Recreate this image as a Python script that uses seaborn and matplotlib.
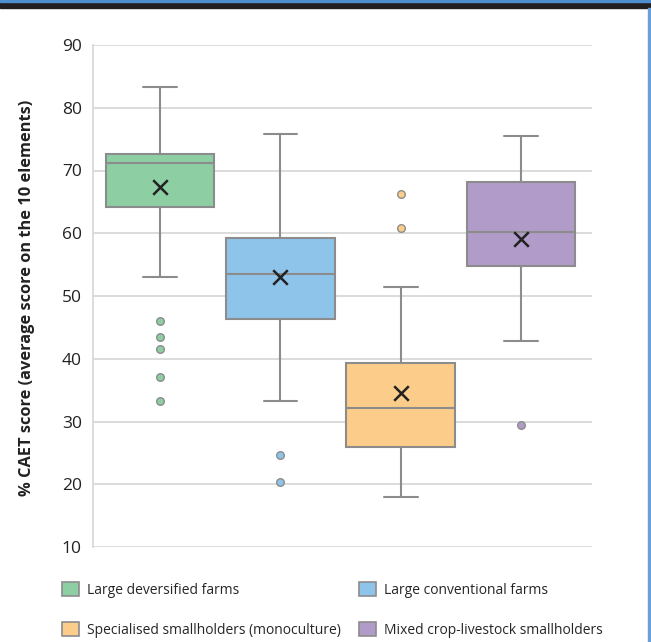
import numpy as np
import pandas as pd
import seaborn as sns
import matplotlib.pyplot as plt
from matplotlib.patches import Patch, Rectangle

groups = ["Large deversified farms", "Large conventional farms",
          "Specialised smallholders (monoculture)", "Mixed crop-livestock smallholders"]
colors = ["#8dcea3", "#8ec4ea", "#fccd8a", "#b19bc9"]

whislo = [53.0, 33.3, 18.0, 42.8]
q1 = [64.2, 46.3, 25.9, 54.8]
med = [71.2, 53.5, 32.2, 60.2]
q3 = [72.6, 59.2, 39.3, 68.2]
whishi = [83.3, 75.8, 51.4, 75.5]
means = [67.4, 53.0, 34.5, 59.1]
outliers = [[46.0, 43.5, 41.6, 37.1, 33.3], [24.7, 20.4], [66.3, 60.8], [29.4]]

yticks = [10, 20, 30, 40, 50, 60, 70, 80, 90]

sns.set_theme(style="white")
plt.rcParams["font.family"] = ["Open Sans", "DejaVu Sans"]

fig = plt.figure(figsize=(6.51, 6.42), dpi=100)
ax = fig.add_axes([93 / 651, 1 - 547 / 642, (592 - 93) / 651, (547 - 45) / 642])

edge = "#8c8c8c"
stats = []
for i in range(len(groups)):
    stats.append(dict(whislo=whislo[i], q1=q1[i], med=med[i], q3=q3[i],
                      whishi=whishi[i], fliers=[], label=groups[i]))
bp = ax.bxp(stats, positions=range(len(groups)), widths=0.905, capwidths=0.28,
            patch_artist=True, showfliers=False,
            boxprops=dict(edgecolor=edge, linewidth=1.5),
            medianprops=dict(color=edge, linewidth=1.5),
            whiskerprops=dict(color=edge, linewidth=1.5),
            capprops=dict(color=edge, linewidth=1.5),
            zorder=3)
for patch, c in zip(bp["boxes"], colors):
    patch.set_facecolor(c)

# outliers
rows = [(i, v) for i, vals in enumerate(outliers) for v in vals]
out_df = pd.DataFrame(rows, columns=["pos", "value"])
for i, c in enumerate(colors):
    sub = out_df[out_df["pos"] == i]
    sns.scatterplot(x=sub["pos"], y=sub["value"], ax=ax, color=c, s=30,
                    edgecolor=edge, linewidth=1, zorder=4, legend=False)

# means
sns.scatterplot(x=np.arange(len(groups)), y=means, ax=ax, marker="x", color="#222222",
                s=110, linewidth=1.8, zorder=5, legend=False)

ax.set_xlim(-0.557, 3.59)
ax.set_ylim(10, 90)
ax.set_yticks(yticks)
ax.set_xticks([])
ax.set_xlabel("")
ax.set_ylabel("")
ax.tick_params(axis="y", labelsize=12.5, colors="#222222", length=0, pad=8)
ax.yaxis.grid(True, color="#d9d9d9", linewidth=1.3)
ax.set_axisbelow(True)
for s in ["top", "right", "bottom"]:
    ax.spines[s].set_visible(False)
ax.spines["left"].set_color("#d9d9d9")
ax.spines["left"].set_linewidth(1.3)
fig.text(27 / 651, 1 - 297.5 / 642, "% CAET score (average score on the 10 elements)",
         rotation=90, ha="center", va="center", fontsize=11.8, fontweight="bold",
         color="#222222")

handles = [Patch(facecolor=colors[k], edgecolor=edge, linewidth=1.2, label=groups[k])
           for k in [0, 2, 1, 3]]
fig.legend(handles=handles, ncol=2, loc="upper left", frameon=False,
           bbox_to_anchor=(62 / 651, 1 - 582 / 642), fontsize=10,
           handlelength=1.2, handleheight=1.2, handletextpad=0.6,
           columnspacing=1.3, labelspacing=1.75, borderaxespad=0, borderpad=0)

# page frame
fig.add_artist(Rectangle((0, 1 - 8 / 642), 1, 8 / 642, transform=fig.transFigure,
                         color="#231f20", zorder=10))
fig.add_artist(Rectangle((0, 1 - 1.5 / 642), 1, 1.5 / 642, transform=fig.transFigure,
                         color="#4f8fd0", zorder=11))
fig.add_artist(Rectangle((648 / 651, 0), 3 / 651, 1 - 8 / 642, transform=fig.transFigure,
                         color="#6a9fd8", zorder=10))

plt.savefig("out.png", dpi=100)
plt.close()
